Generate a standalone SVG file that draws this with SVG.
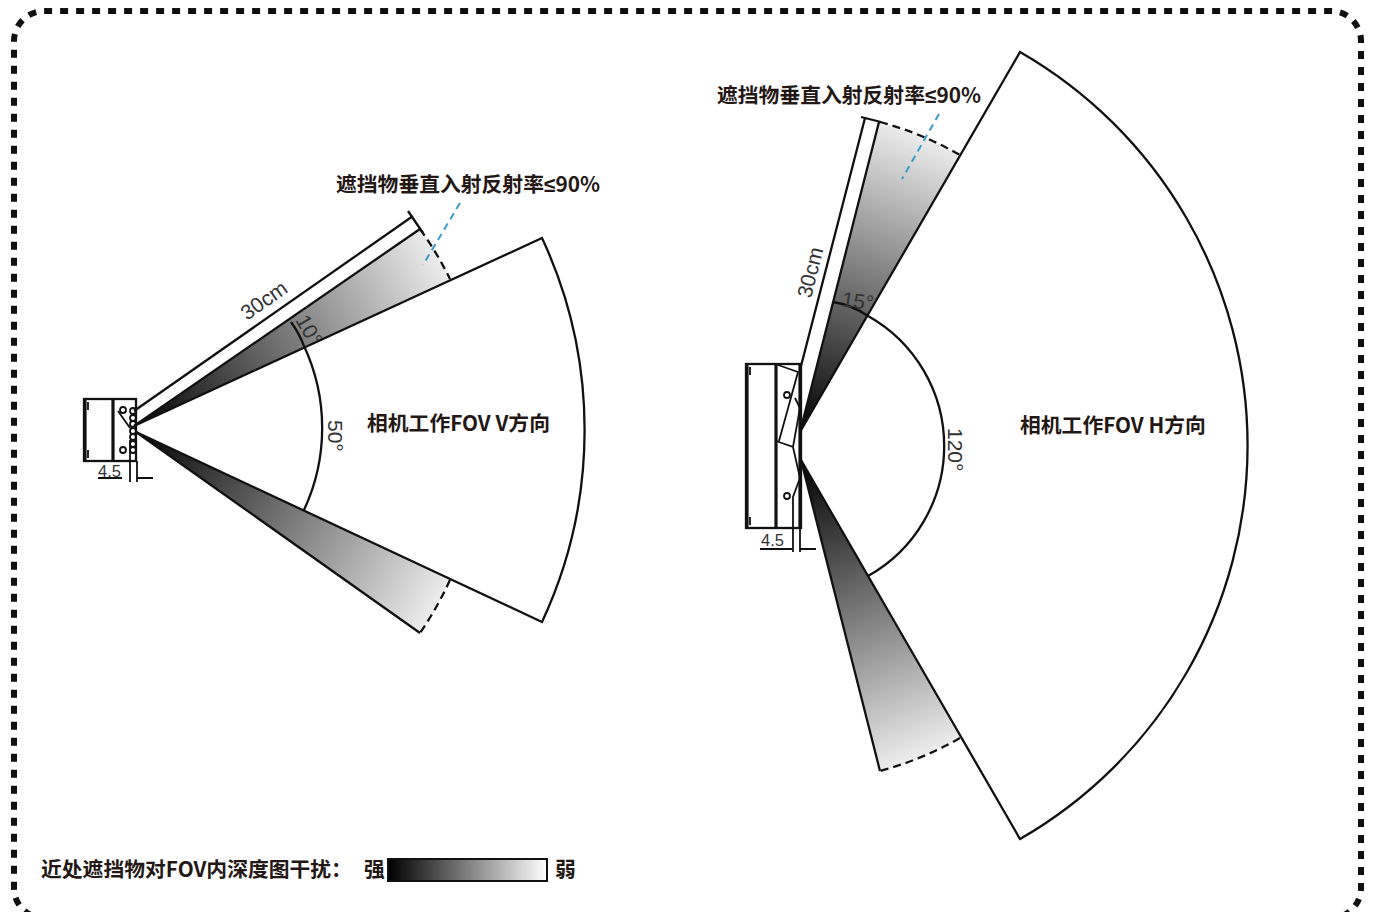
<svg xmlns="http://www.w3.org/2000/svg" width="1373" height="912" viewBox="0 0 1373 912">
<style>
.l{fill:none;stroke:#111;stroke-width:2.3}
.t{stroke:#111;stroke-width:1.8;fill:none}
.k{stroke:#111;stroke-width:3.2;fill:none}
.d{fill:none;stroke:#111;stroke-width:2.3;stroke-dasharray:8 5}
.b{fill:none;stroke:#3a9cc8;stroke-width:2;stroke-dasharray:7 5}
.c{font-family:"Noto Sans CJK SC","Liberation Sans",sans-serif;font-weight:700;font-size:20.8px;fill:#231815}
.n{font-family:"Liberation Sans",Arial,sans-serif;font-weight:700}
.a{font-family:"Liberation Sans",Arial,sans-serif;font-size:21px;fill:#333}
.s{font-family:"Liberation Sans",Arial,sans-serif;font-size:16.5px;fill:#333}
</style>
<defs>
<linearGradient id="g1" gradientUnits="userSpaceOnUse" x1="134" y1="426" x2="435" y2="254"><stop offset="0" stop-color="#000"/><stop offset="1" stop-color="#ececec"/></linearGradient>
<linearGradient id="g2" gradientUnits="userSpaceOnUse" x1="136" y1="432" x2="435" y2="606"><stop offset="0" stop-color="#000"/><stop offset="1" stop-color="#ececec"/></linearGradient>
<linearGradient id="g3" gradientUnits="userSpaceOnUse" x1="800" y1="432" x2="918" y2="135"><stop offset="0" stop-color="#000"/><stop offset="1" stop-color="#ececec"/></linearGradient>
<linearGradient id="g4" gradientUnits="userSpaceOnUse" x1="801" y1="460" x2="918" y2="756"><stop offset="0" stop-color="#000"/><stop offset="1" stop-color="#ececec"/></linearGradient>
<linearGradient id="g5" gradientUnits="userSpaceOnUse" x1="388" y1="0" x2="547" y2="0"><stop offset="0" stop-color="#000"/><stop offset="1" stop-color="#fff"/></linearGradient>
</defs>
<path id="frame" d="M44 918A30 30 0 0 1 14 888V41A30 30 0 0 1 44 11H1331A30 30 0 0 1 1361 41V888A30 30 0 0 1 1331 918Z" fill="none" stroke="#111" stroke-width="6" stroke-dasharray="8 8" stroke-dashoffset="2.8"/>

<g id="fov-v">
<path fill="url(#g1)" d="M134 426L420 229A353 353 0 0 1 450 279Z"/>
<path fill="url(#g2)" d="M136 432L420 633A353 353 0 0 0 450 580Z"/>
<path class="l" d="M134 426L420 229M136 432L420 633"/>
<path class="d" d="M420 229A353 353 0 0 1 450 279"/>
<path class="d" d="M450 580A353 353 0 0 1 420 633"/>
<path class="l" d="M134 411L413 216M408 211L423 233"/>
<path class="l" d="M304 346A194 194 0 0 1 304 510"/>
<path class="l" d="M291 322Q299 333 304 346"/>
<path class="b" d="M460 203L423 265"/>
<text class="c" x="336" y="192">遮挡物垂直入射反射率<tspan class="n">≤</tspan>90%</text>
<text class="c" x="367" y="431">相机工作FOV V方向</text>
<text class="a" transform="translate(247 321) rotate(-35)">30cm</text>
<text class="a" transform="translate(295 320) rotate(60)" font-size="18">10°</text>
<text class="a" transform="translate(328 420) rotate(90)">50°</text>
</g>

<g id="fov-h">
<path fill="url(#g3)" d="M800 432L879 122A335 335 0 0 1 960 155Z"/>
<path fill="url(#g4)" d="M801 460L880 771A335 335 0 0 0 960 738Z"/>
<path class="l" d="M800 432L879 122M801 460L880 771"/>
<path class="d" d="M880 122A335 335 0 0 1 960 155"/>
<path class="d" d="M960 738A335 335 0 0 1 880 771"/>
<path class="l" d="M800 370L865 118M861 117L881 122"/>
<path class="l" d="M868 316A149 149 0 0 1 868 576"/>
<path class="l" d="M833 302Q852 305 868 316"/>
<path class="b" d="M939 114L902 179"/>
<text class="c" x="717" y="103">遮挡物垂直入射反射率<tspan class="n">≤</tspan>90%</text>
<text class="c" x="1020" y="433">相机工作FOV H方向</text>
<text class="a" transform="translate(811 299) rotate(-76)">30cm</text>
<text class="a" transform="translate(841 306) rotate(8)">15°</text>
<text class="a" transform="translate(948 428) rotate(90)">120°</text>
</g>

<g id="connectors">
<path class="l" d="M134 426L542 238A454 454 0 0 1 542 622L136 432"/>
<path class="l" d="M800 432L1020 52A454 454 0 0 1 1020 839L801 460"/>
</g>

<g id="camera-v">
<rect class="l" x="84" y="399" width="52" height="62" fill="#fff"/>
<path class="k" d="M85 399V461M113 399V461"/>
<path class="t" d="M88 402v8M88 450v8M118 411L130 428M130 440V482M137 461V482M137 478H153M98 478H122"/>
<circle class="t" cx="123" cy="410" r="3"/><circle class="t" cx="123" cy="450" r="3"/>
<circle class="t" cx="133" cy="411" r="3"/><circle class="t" cx="133" cy="418" r="3"/><circle class="t" cx="133" cy="424" r="3"/><circle class="t" cx="133" cy="431" r="3"/><circle class="t" cx="133" cy="437" r="3"/><circle class="t" cx="133" cy="444" r="3"/><circle class="t" cx="133" cy="450" r="3"/>
<text class="s" x="98" y="477">4.5</text>
</g>

<g id="camera-h">
<rect class="l" x="746" y="364" width="55" height="164" fill="#fff"/>
<path class="k" d="M747 364V528M776 364V528M800 364V528"/>
<path class="t" d="M750 367v8M750 517v8M778 365L798 372L779 441M776 441L793 447L800 478L793 497V552M793 447L800 408L795 398M800 528V552M800 549H816M760 549H792"/>
<circle class="t" cx="787" cy="395" r="3"/><circle class="t" cx="787" cy="496" r="3"/>
<text class="s" x="761" y="546">4.5</text>
</g>

<g id="legend">
<rect x="388" y="859" width="159" height="22" fill="url(#g5)" stroke="#111" stroke-width="2"/>
<text class="c" x="41" y="877">近处遮挡物对FOV内深度图干扰：</text>
<text class="c" x="364" y="877">强</text>
<text class="c" x="555" y="877">弱</text>
</g>
</svg>
